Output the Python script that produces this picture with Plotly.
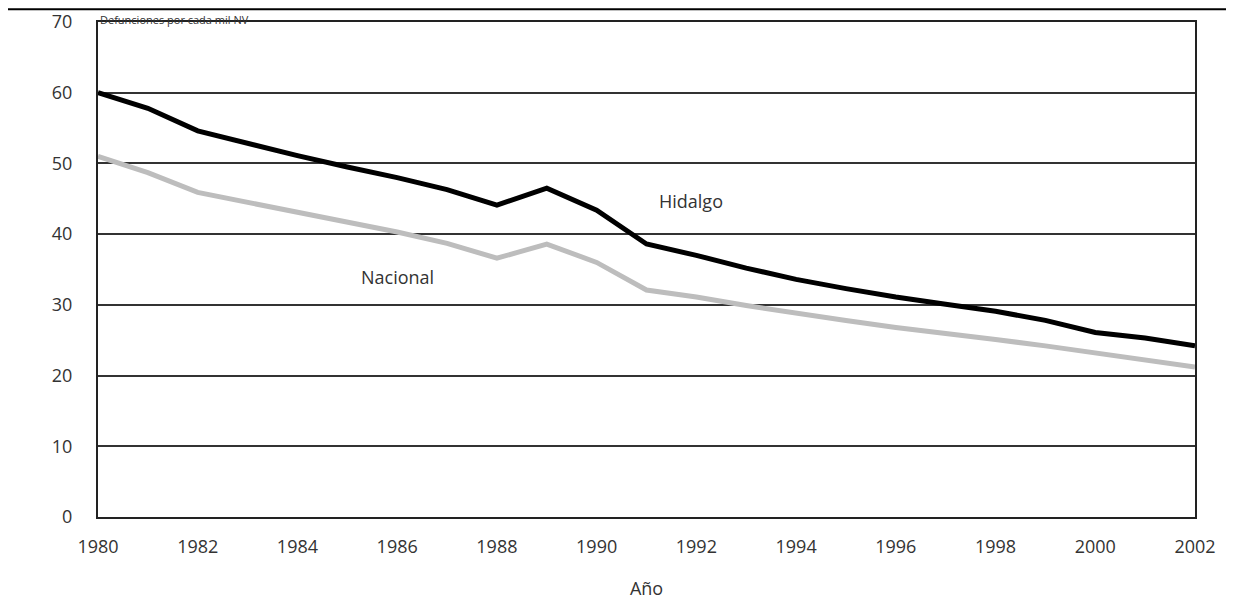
import plotly.graph_objects as go

years = list(range(1980, 2003))
hidalgo = [60.0, 57.8, 54.6, 52.8, 51.1, 49.5, 48.0, 46.3, 44.1, 46.5, 43.4, 38.6,
           37.0, 35.2, 33.6, 32.3, 31.1, 30.1, 29.1, 27.8, 26.1, 25.3, 24.2]
nacional = [51.0, 48.7, 45.9, 44.5, 43.1, 41.7, 40.3, 38.7, 36.6, 38.6, 36.0, 32.1,
            31.1, 29.9, 28.8, 27.8, 26.8, 26.0, 25.1, 24.2, 23.2, 22.2, 21.2]
x_ticks = list(range(1980, 2003, 2))
y_ticks = list(range(0, 71, 10))

FONT = "Open Sans"
TXT = "#333333"

fig = go.Figure()
fig.add_trace(go.Scatter(x=years, y=nacional, mode="lines", name="Nacional",
                         line=dict(color="#bdbdbd", width=5), showlegend=False))
fig.add_trace(go.Scatter(x=years, y=hidalgo, mode="lines", name="Hidalgo",
                         line=dict(color="#000000", width=5), showlegend=False))

fig.add_annotation(x=1991.9, y=44.7, text="Hidalgo", showarrow=False,
                   font=dict(family=FONT, size=18, color=TXT))
fig.add_annotation(x=1986.0, y=34.0, text="Nacional", showarrow=False,
                   font=dict(family=FONT, size=18, color=TXT))
fig.add_annotation(xref="paper", yref="paper", x=0.0, y=1.024, xanchor="left",
                   yanchor="top", text="Defunciones por cada mil NV", showarrow=False,
                   font=dict(family=FONT, size=11, color=TXT))

# outer frame lines (top and right edge of the scanned figure)
fig.add_shape(type="line", xref="paper", yref="paper", x0=-0.1, x1=1.04,
              y0=1.026, y1=1.026, line=dict(color="#000", width=2))
fig.add_shape(type="line", xref="paper", yref="paper", x0=1.031, x1=1.031,
              y0=1.026, y1=-0.2, line=dict(color="#555", width=1.5))

fig.update_xaxes(range=[1980, 2002], tickvals=x_ticks, ticks="", showgrid=False,
                 showline=True, linecolor="#222", linewidth=2, mirror=True,
                 zeroline=False, ticklabelstandoff=12, automargin=False,
                 tickfont=dict(family=FONT, size=18, color=TXT),
                 title=dict(text="Año", font=dict(family=FONT, size=18, color=TXT),
                            standoff=26))
fig.update_yaxes(range=[0, 70], tickvals=y_ticks, ticks="", showgrid=True,
                 gridcolor="#333", gridwidth=2, showline=True, linecolor="#222",
                 linewidth=2, mirror=True, zeroline=False, automargin=False,
                 tickfont=dict(family=FONT, size=18, color=TXT), ticklabelstandoff=20)

fig.update_layout(width=1226, height=597, paper_bgcolor="white", plot_bgcolor="white",
                  margin=dict(l=90, r=39, t=14, b=88))

fig.write_html("out.html")
